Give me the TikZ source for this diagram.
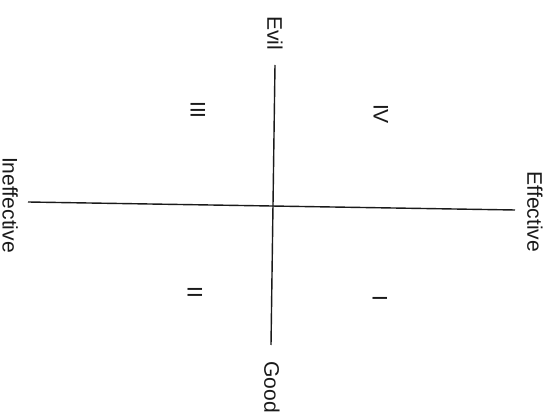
\documentclass[tikz,border=0pt]{standalone}
\usepackage{fontspec}
\setmainfont{Liberation Sans}
\usetikzlibrary{positioning}
\definecolor{ink}{HTML}{1A1A1A}
\tikzset{
  axis/.style={draw=ink, line width=0.8pt},
  pole/.style={font=\fontsize{12}{14}\selectfont, text=ink, rotate=-90, inner sep=0pt},
  quadrant/.style={pole}
}
\begin{document}
\begin{tikzpicture}[x=0.02cm, y=-0.02cm]
\useasboundingbox (0,0) rectangle (555,415);
\coordinate (top) at (275,65);
\coordinate (bottom) at (271,345);
\coordinate (left) at (28,202);
\coordinate (right) at (515,210);
\draw[axis] (top) -- (bottom);
\draw[axis] (left) -- (right);
\node[pole] (evil) at (275,33) {Evil};
\node[pole] (good) at (272,387) {Good};
\node[pole, anchor=base] (ineff) at (2.5,205) {Ineffective};
\node[pole] (eff) at (535,212) {Effective};
\foreach \n/\x/\y/\t in {q3/198/110/III,q4/381/114/IV,q2/195/292/II,q1/380/298/I} {\node[quadrant] (\n) at (\x,\y) {\t};}
\end{tikzpicture}
\end{document}
